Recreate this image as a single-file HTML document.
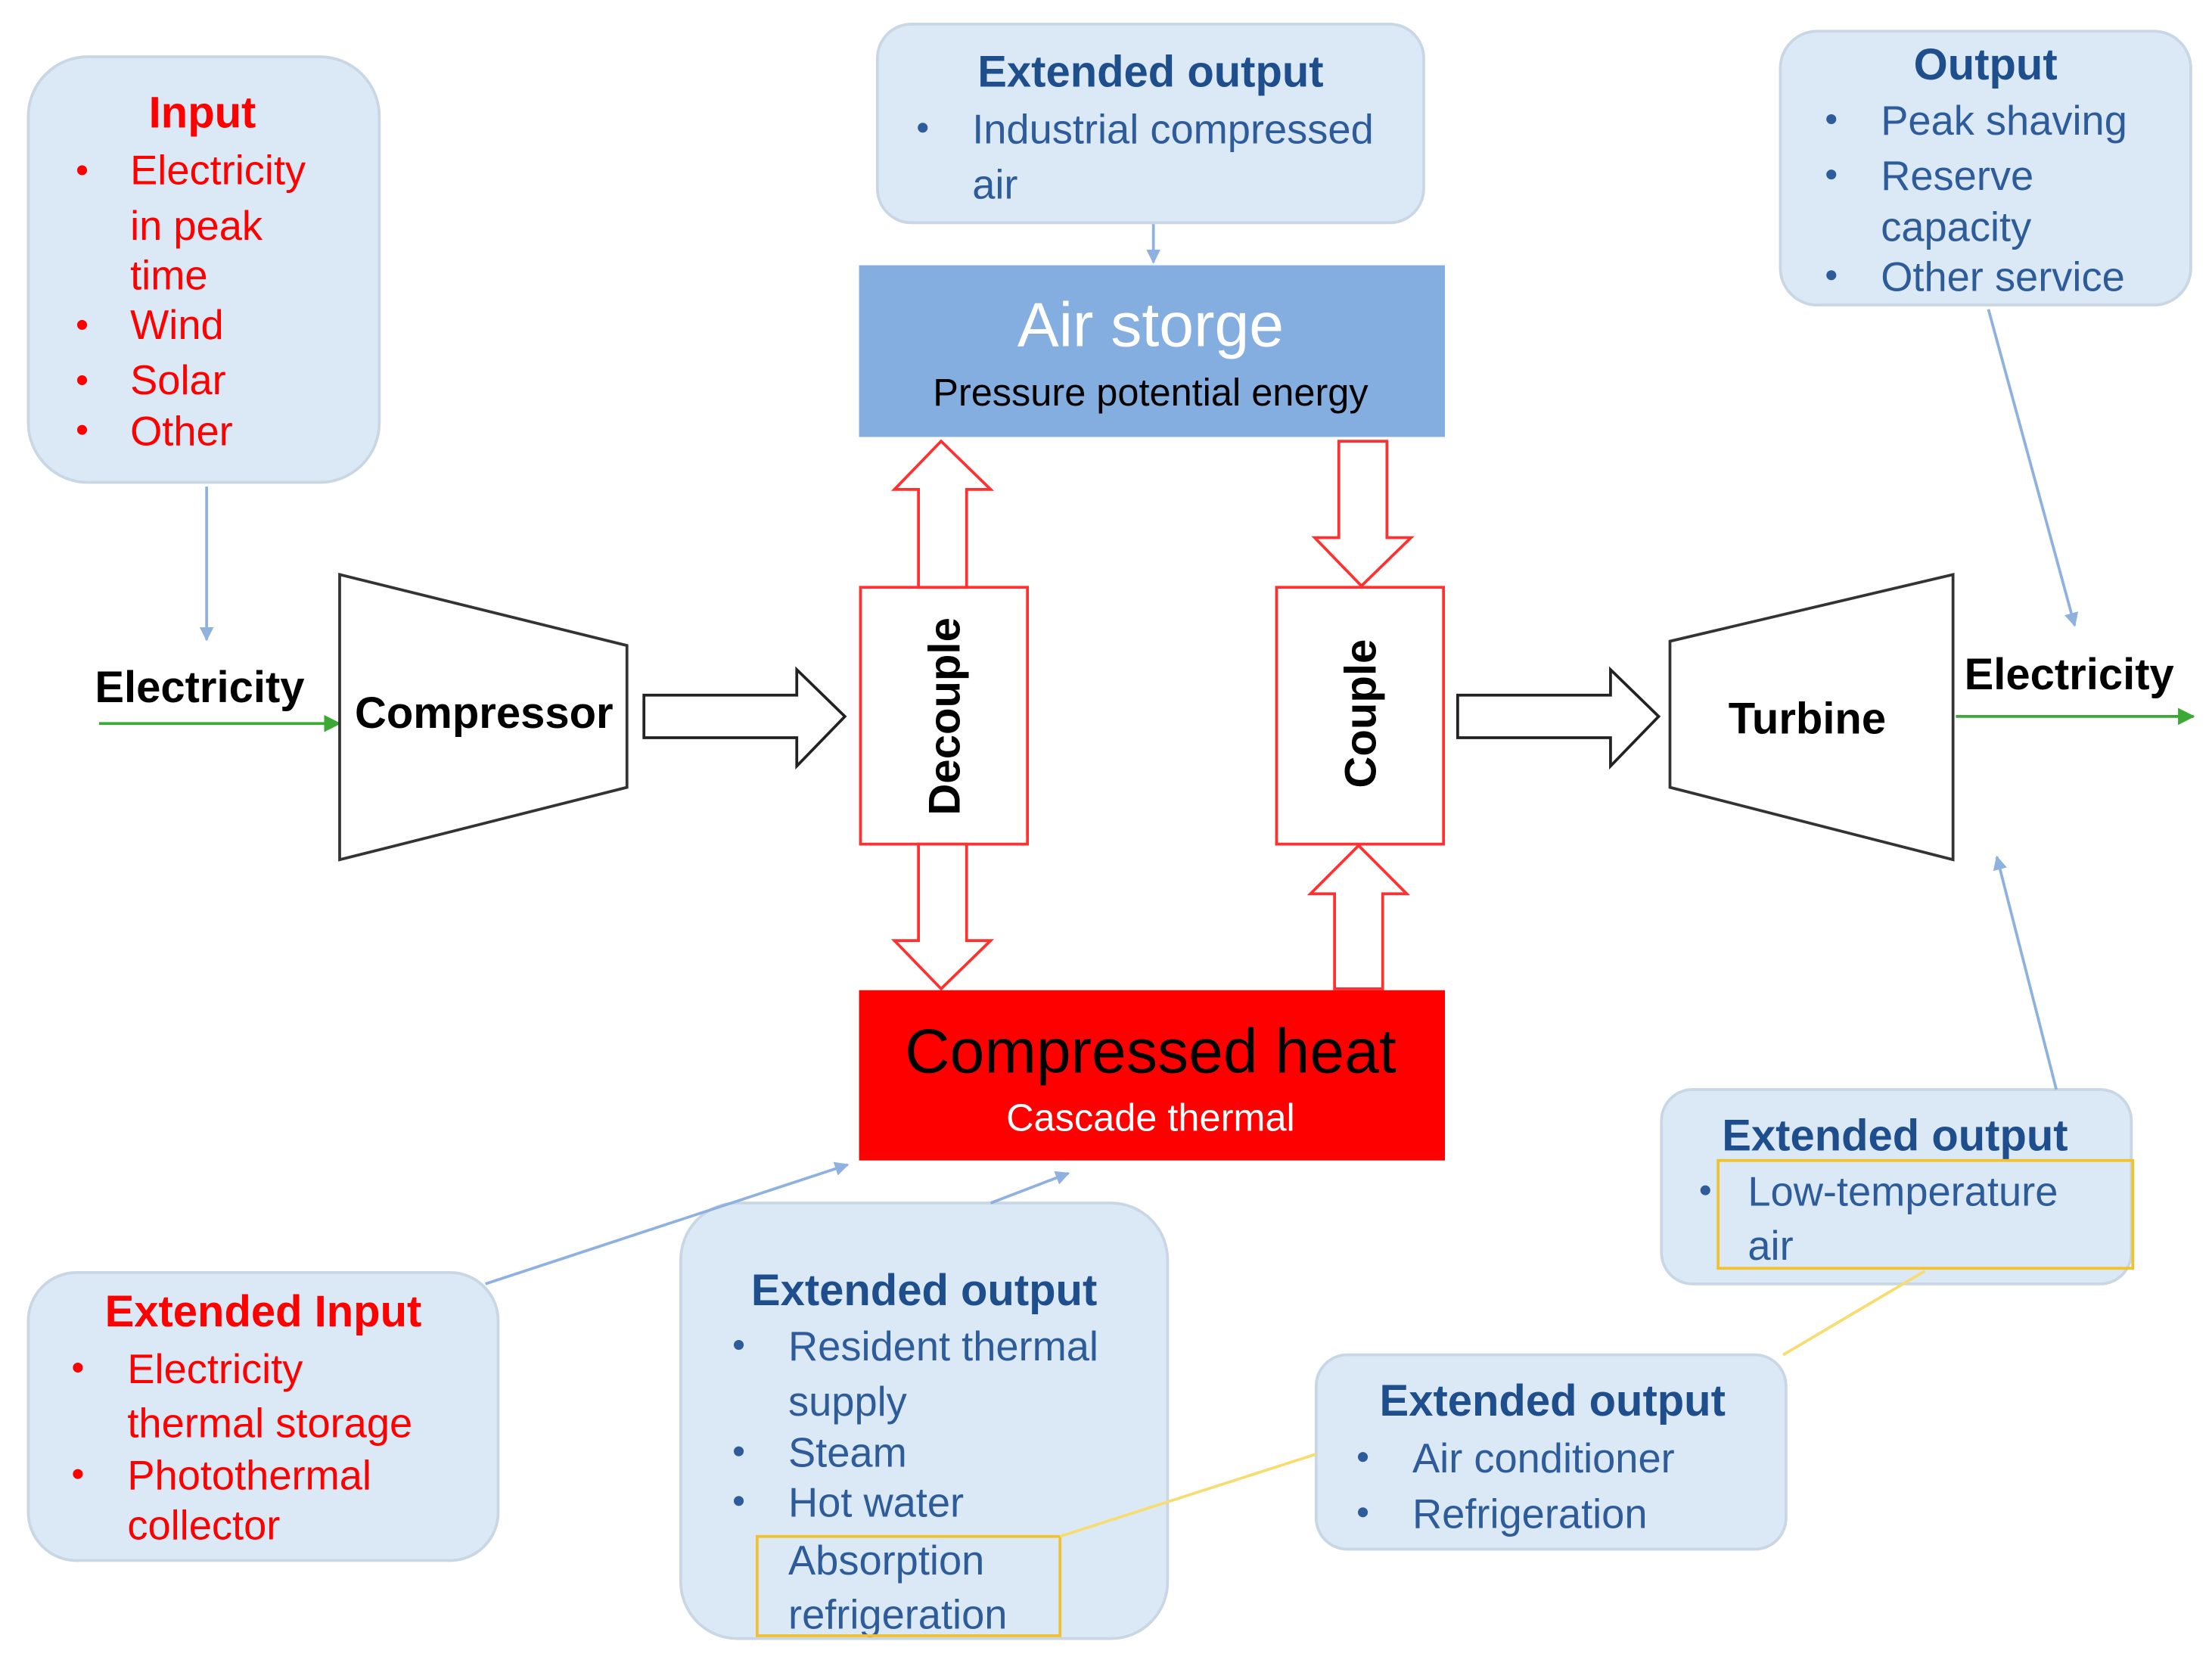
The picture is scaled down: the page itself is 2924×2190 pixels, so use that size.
<!DOCTYPE html>
<html><head><meta charset="utf-8">
<style>
html,body{margin:0;padding:0;background:#fff;}
svg{display:block;}
text{font-family:"Liberation Sans","DejaVu Sans",sans-serif;}
</style></head>
<body>
<svg width="2924" height="2190" viewBox="0 0 1563 1168" preserveAspectRatio="none" xmlns="http://www.w3.org/2000/svg">
<defs>
<marker id="ab" markerWidth="10" markerHeight="10" refX="9" refY="5" orient="auto" markerUnits="userSpaceOnUse"><path d="M0,0 L10,5 L0,10 Z" fill="#8eb1e0"/></marker>
<marker id="ag" markerWidth="12" markerHeight="12" refX="11" refY="6" orient="auto" markerUnits="userSpaceOnUse"><path d="M0,0 L12,6 L0,12 Z" fill="#3aaa35"/></marker>
</defs>
<rect width="1563" height="1168" fill="#fff"/>

<!-- Boxes -->
<g fill="#dbe9f6" stroke="#c9d6e3" stroke-width="2">
<rect x="20" y="40" width="248" height="300" rx="42"/>
<rect x="620" y="17" width="386" height="140" rx="24"/>
<rect x="1258" y="22" width="290" height="193" rx="26"/>
<rect x="20" y="897" width="332" height="203" rx="34"/>
<rect x="481" y="848" width="344" height="307" rx="40"/>
<rect x="930" y="955" width="332" height="137" rx="22"/>
<rect x="1174" y="768" width="332" height="137" rx="22"/>
</g>

<!-- Input -->
<g fill="#ff0000" font-size="29">
<text x="143" y="90" text-anchor="middle" font-weight="bold" font-size="31">Input</text>
<text x="92" y="130">Electricity</text>
<text x="92" y="169">in peak</text>
<text x="92" y="204">time</text>
<text x="92" y="239">Wind</text>
<text x="92" y="278">Solar</text>
<text x="92" y="314">Other</text>
<circle cx="58" cy="120" r="3.5"/><circle cx="58" cy="229" r="3.5"/><circle cx="58" cy="268" r="3.5"/><circle cx="58" cy="303" r="3.5"/>
</g>
<line x1="146" y1="343" x2="146" y2="451" stroke="#8eb1e0" stroke-width="2" marker-end="url(#ab)"/>

<!-- Electricity left -->
<text x="67" y="495" font-size="31" font-weight="bold" fill="#000">Electricity</text>
<line x1="70" y1="510" x2="240" y2="510" stroke="#3aaa35" stroke-width="2" marker-end="url(#ag)"/>

<!-- Compressor -->
<polygon points="240,405 443,455 443,555 240,606" fill="#fff" stroke="#333" stroke-width="2"/>
<text x="342" y="513" text-anchor="middle" font-size="31" font-weight="bold">Compressor</text>

<!-- hollow right arrows -->
<polygon points="455,490 563,490 563,472 597,505 563,540 563,520 455,520" fill="#fff" stroke="#222" stroke-width="2"/>
<polygon points="1030,490 1138,490 1138,472 1172,505 1138,540 1138,520 1030,520" fill="#fff" stroke="#222" stroke-width="2"/>

<!-- Decouple / Couple -->
<rect x="608" y="414" width="118" height="181" fill="#fff" stroke="#ff3030" stroke-width="2"/>
<text transform="translate(678,505) rotate(-90)" text-anchor="middle" font-size="31" font-weight="bold">Decouple</text>
<rect x="902" y="414" width="118" height="181" fill="#fff" stroke="#ff3030" stroke-width="2"/>
<text transform="translate(972,503) rotate(-90)" text-anchor="middle" font-size="31" font-weight="bold">Couple</text>

<!-- vertical hollow arrows -->
<g fill="#fff" stroke="#ff3030" stroke-width="2">
<polygon points="649,414 649,345 632,345 665,311 700,345 683,345 683,414"/>
<polygon points="649,595 649,663 632,663 665,697 700,663 683,663 683,595"/>
<polygon points="946,311 946,379 929,379 962,413 997,379 980,379 980,311"/>
<polygon points="943,697 943,630 926,630 960,596 994,630 977,630 977,697"/>
</g>

<!-- Air storage -->
<rect x="607" y="187" width="414" height="121" fill="#84aee0"/>
<text x="813" y="244" text-anchor="middle" font-size="44" fill="#fff">Air storge</text>
<text x="813" y="286" text-anchor="middle" font-size="27" fill="#000">Pressure potential energy</text>

<!-- Extended output top -->
<text x="813" y="61" text-anchor="middle" font-size="31" font-weight="bold" fill="#1f4e8c">Extended output</text>
<g fill="#2e5c9a" font-size="29">
<circle cx="652" cy="90" r="3.5"/>
<text x="687" y="101">Industrial compressed</text>
<text x="687" y="140">air</text>
</g>
<line x1="815" y1="158" x2="815" y2="185" stroke="#8eb1e0" stroke-width="2" marker-end="url(#ab)"/>

<!-- Turbine -->
<polygon points="1180,452 1380,405 1380,606 1180,555" fill="#fff" stroke="#333" stroke-width="2"/>
<text x="1277" y="517" text-anchor="middle" font-size="31" font-weight="bold">Turbine</text>
<text x="1388" y="486" font-size="31" font-weight="bold">Electricity</text>
<line x1="1382" y1="505" x2="1550" y2="505" stroke="#3aaa35" stroke-width="2" marker-end="url(#ag)"/>

<!-- Output -->
<text x="1403" y="56" text-anchor="middle" font-size="31" font-weight="bold" fill="#1f4e8c">Output</text>
<g fill="#2e5c9a" font-size="29">
<text x="1329" y="95">Peak shaving</text>
<text x="1329" y="134">Reserve</text>
<text x="1329" y="170">capacity</text>
<text x="1329" y="205">Other service</text>
<circle cx="1294" cy="84" r="3.5"/><circle cx="1294" cy="123" r="3.5"/><circle cx="1294" cy="194" r="3.5"/>
</g>
<line x1="1405" y1="218" x2="1466" y2="441" stroke="#8eb1e0" stroke-width="2" marker-end="url(#ab)"/>

<!-- Compressed heat -->
<rect x="607" y="698" width="414" height="120" fill="#ff0000"/>
<text x="813" y="756" text-anchor="middle" font-size="44" fill="#000">Compressed heat</text>
<text x="813" y="797" text-anchor="middle" font-size="27" fill="#fff">Cascade thermal</text>

<!-- Extended Input -->
<text x="186" y="935" text-anchor="middle" font-size="31" font-weight="bold" fill="#ff0000">Extended Input</text>
<g fill="#ff0000" font-size="29">
<text x="90" y="975">Electricity</text>
<text x="90" y="1013">thermal storage</text>
<text x="90" y="1050">Photothermal</text>
<text x="90" y="1085">collector</text>
<circle cx="55" cy="964" r="3.5"/><circle cx="55" cy="1039" r="3.5"/>
</g>
<line x1="343" y1="905" x2="599" y2="821" stroke="#8eb1e0" stroke-width="2" marker-end="url(#ab)"/>

<!-- Extended output bottom mid -->
<text x="653" y="920" text-anchor="middle" font-size="31" font-weight="bold" fill="#1f4e8c">Extended output</text>
<g fill="#2e5c9a" font-size="29">
<text x="557" y="959">Resident thermal</text>
<text x="557" y="998">supply</text>
<text x="557" y="1034">Steam</text>
<text x="557" y="1069">Hot water</text>
<text x="557" y="1110">Absorption</text>
<text x="557" y="1148">refrigeration</text>
<circle cx="522" cy="948" r="3.5"/><circle cx="522" cy="1023" r="3.5"/><circle cx="522" cy="1058" r="3.5"/>
</g>
<rect x="535" y="1083" width="214" height="70" fill="none" stroke="#f2c12e" stroke-width="2"/>
<line x1="700" y1="848" x2="755" y2="827" stroke="#8eb1e0" stroke-width="2" marker-end="url(#ab)"/>

<!-- Extended output right -->
<text x="1097" y="998" text-anchor="middle" font-size="31" font-weight="bold" fill="#1f4e8c">Extended output</text>
<g fill="#2e5c9a" font-size="29">
<text x="998" y="1038">Air conditioner</text>
<text x="998" y="1077">Refrigeration</text>
<circle cx="963" cy="1027" r="3.5"/><circle cx="963" cy="1066" r="3.5"/>
</g>
<line x1="749" y1="1083" x2="930" y2="1025" stroke="#f7dc6f" stroke-width="2"/>

<!-- Extended output far right -->
<text x="1339" y="811" text-anchor="middle" font-size="31" font-weight="bold" fill="#1f4e8c">Extended output</text>
<g fill="#2e5c9a" font-size="29">
<circle cx="1205" cy="839" r="3.5"/>
<text x="1235" y="850">Low-temperature</text>
<text x="1235" y="888">air</text>
</g>
<rect x="1214" y="818" width="293" height="76" fill="none" stroke="#f2c12e" stroke-width="2"/>
<line x1="1360" y1="896" x2="1260" y2="955" stroke="#f7dc6f" stroke-width="2"/>
<line x1="1453" y1="768" x2="1411" y2="604" stroke="#8eb1e0" stroke-width="2" marker-end="url(#ab)"/>
</svg>
</body></html>
